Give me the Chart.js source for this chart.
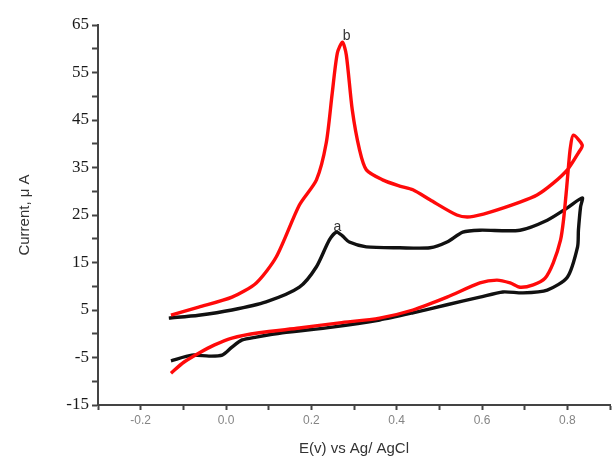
<!DOCTYPE html>
<html>
<head>
<meta charset="utf-8">
<script src="https://cdn.jsdelivr.net/npm/chart.js@4.4.0/dist/chart.umd.min.js"></script>
<style>
  html, body { margin: 0; padding: 0; background: #fff; }
  #wrap { width: 616px; height: 464px; }
</style>
</head>
<body>
<div id="wrap"><canvas id="mycanvas"></canvas></div>
<script>
// curve b (red): lower branch left->right, hook at the turn, upper branch back to the left
var redX = [-0.129, -0.099, -0.064, -0.028, 0.014, 0.078, 0.172, 0.266, 0.36, 0.438, 0.518, 0.595, 0.635, 0.666, 0.689, 0.72, 0.748, 0.767, 0.784, 0.791, 0.798, 0.802, 0.807, 0.814, 0.835, 0.826, 0.8, 0.767, 0.729, 0.689, 0.619, 0.572, 0.541, 0.478, 0.438, 0.407, 0.367, 0.329, 0.313, 0.296, 0.282, 0.273, 0.261, 0.249, 0.235, 0.212, 0.172, 0.118, 0.071, 0.014, -0.064, -0.129];
var redY = [-8.3, -6.0, -4.1, -2.4, -0.9, 0.2, 1.2, 2.3, 3.3, 5.0, 7.7, 10.7, 11.3, 10.7, 9.8, 10.3, 11.7, 14.9, 19.7, 23.9, 30.3, 34.5, 39.1, 41.8, 39.7, 38.1, 34.5, 31.7, 29.2, 27.7, 25.6, 24.6, 25.0, 28.2, 30.3, 31.1, 32.4, 34.5, 38.7, 47.1, 58.7, 61.4, 59.1, 50.7, 40.2, 32.4, 27.1, 16.2, 10.7, 7.7, 5.6, 3.9];

// curve a (black): upper branch left->right, down at the turn, lower branch back to the left
var blackX = [-0.134, -0.064, 0.014, 0.094, 0.172, 0.212, 0.242, 0.259, 0.273, 0.289, 0.329, 0.407, 0.478, 0.518, 0.555, 0.595, 0.689, 0.753, 0.8, 0.835, 0.831, 0.826, 0.824, 0.8, 0.753, 0.696, 0.649, 0.595, 0.518, 0.438, 0.36, 0.249, 0.132, 0.071, 0.038, 0.014, -0.009, -0.04, -0.08, -0.129];
var blackY = [3.3, 3.9, 5.0, 6.7, 9.8, 14.1, 19.7, 21.4, 20.6, 19.3, 18.3, 18.1, 18.1, 19.3, 21.4, 21.8, 21.8, 23.9, 26.5, 28.6, 26.7, 21.8, 18.3, 11.9, 9.2, 8.6, 8.8, 7.7, 6.1, 4.4, 2.9, 1.4, 0.2, -0.7, -1.3, -2.8, -4.5, -4.7, -4.5, -5.7];

// peak labels
var peakNames = ['b', 'a'];
var peakX = [0.283, 0.261];
var peakY = [62.6, 22.5];

function toPoints(xs, ys) {
    var pts = [];
    for (var i in xs) {
        pts.push({x: xs[i], y: ys[i]});
    }
    return pts;
}

var peakLabels = {
    id: 'peakLabels',
    afterDatasetsDraw: function(chart) {
        var ctx = chart.ctx;
        ctx.save();
        ctx.font = '14px "Liberation Sans", Arial, sans-serif';
        ctx.fillStyle = '#333';
        ctx.textAlign = 'center';
        ctx.textBaseline = 'middle';
        for (var i = 0; i < peakNames.length; i++) {
            ctx.fillText(peakNames[i], chart.scales.x.getPixelForValue(peakX[i]), chart.scales.y.getPixelForValue(peakY[i]));
        }
        ctx.restore();
    }
};

var chartdata = {
    datasets: [
        {
            label: 'b',
            data: toPoints(redX, redY),
            borderColor: '#ff0a0a',
            borderWidth: 3.4,
            pointRadius: 0,
            showLine: true,
            tension: 0.25
        },
        {
            label: 'a',
            data: toPoints(blackX, blackY),
            borderColor: '#111111',
            borderWidth: 3.4,
            pointRadius: 0,
            showLine: true,
            tension: 0.25
        }
    ]
};

var ctx = document.getElementById('mycanvas');

new Chart(ctx, {
    type: 'scatter',
    data: chartdata,
    plugins: [peakLabels],
    options: {
        responsive: true,
        maintainAspectRatio: false,
        animation: false,
        layout: { padding: { left: 12, right: 6, top: 25, bottom: 2 } },
        plugins: {
            legend: { display: false },
            tooltip: { enabled: false }
        },
        scales: {
            x: {
                type: 'linear',
                min: -0.3,
                max: 0.9,
                afterFit: function(scale) { scale.height = 57; },
                border: { display: true, color: '#444', width: 2 },
                grid: {
                    drawOnChartArea: false,
                    drawTicks: true,
                    tickLength: 5,
                    tickColor: '#444',
                    tickWidth: 2
                },
                ticks: {
                    stepSize: 0.1,
                    autoSkip: false,
                    maxRotation: 0,
                    color: '#858585',
                    font: { family: '"Liberation Sans", Arial, sans-serif', size: 12 },
                    callback: function(value) {
                        var k = Math.round(value * 10);
                        if (k % 2 === 0 && k >= -2 && k <= 8) return (k / 10).toFixed(1);
                        return '';
                    }
                },
                title: {
                    display: true,
                    text: 'E(v) vs Ag/ AgCl',
                    color: '#333',
                    font: { family: '"Liberation Sans", Arial, sans-serif', size: 15 },
                    padding: { top: 7 }
                }
            },
            y: {
                type: 'linear',
                min: -15,
                max: 65,
                afterFit: function(scale) { scale.width = 86; },
                border: { display: true, color: '#444', width: 2 },
                grid: {
                    drawOnChartArea: false,
                    drawTicks: true,
                    tickLength: 6,
                    tickColor: '#444',
                    tickWidth: 2
                },
                ticks: {
                    stepSize: 5,
                    autoSkip: false,
                    color: '#1a1a1a',
                    padding: 3,
                    font: { family: '"Liberation Serif", "Times New Roman", serif', size: 17 },
                    callback: function(value) {
                        if (Math.round(value + 15) % 10 === 0) return String(value);
                        return '';
                    }
                },
                title: {
                    display: true,
                    text: 'Current, \u03bc A',
                    color: '#333',
                    font: { family: '"Liberation Sans", Arial, sans-serif', size: 15 },
                    padding: { bottom: 4 }
                }
            }
        }
    }
});
</script>
</body>
</html>
